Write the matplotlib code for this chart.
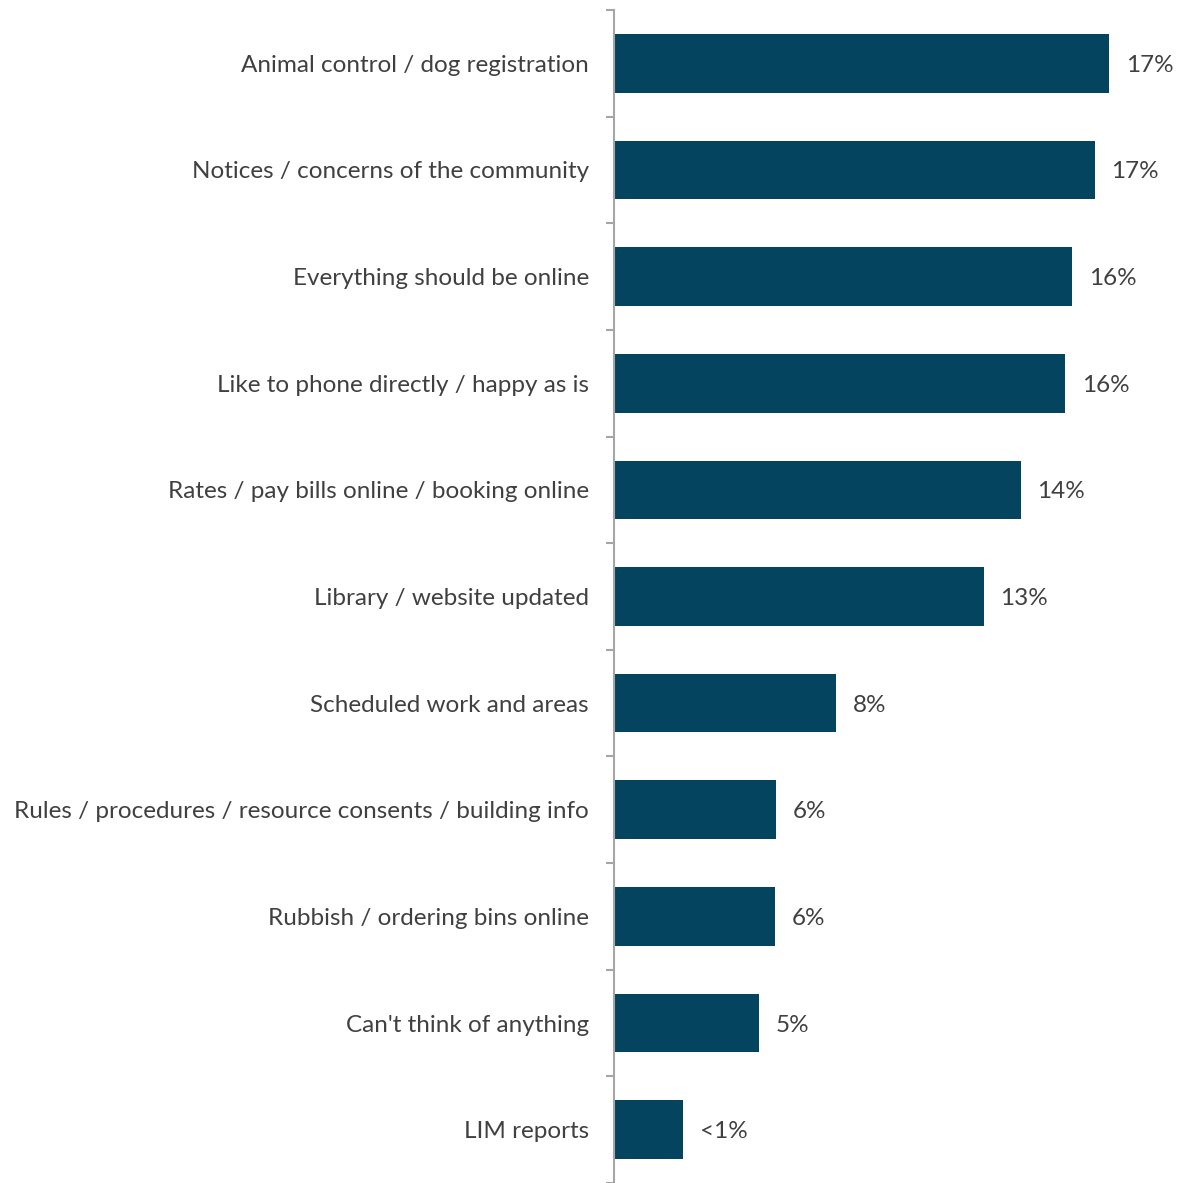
import matplotlib
matplotlib.use("Agg")
import matplotlib.pyplot as plt
import numpy as np

categories = [
    "Animal control / dog registration",
    "Notices / concerns of the community",
    "Everything should be online",
    "Like to phone directly / happy as is",
    "Rates / pay bills online / booking online",
    "Library / website updated",
    "Scheduled work and areas",
    "Rules / procedures / resource consents / building info",
    "Rubbish / ordering bins online",
    "Can't think of anything",
    "LIM reports",
]
values = [17.4, 16.9, 16.1, 15.85, 14.3, 13.0, 7.8, 5.7, 5.66, 5.1, 2.43]
value_labels = ["17%", "17%", "16%", "16%", "14%", "13%", "8%", "6%", "6%", "5%", "<1%"]

plt.rcParams['font.family'] = ['Lato', 'DejaVu Sans']
fig = plt.figure(figsize=(11.83, 11.83), dpi=100)
ax = fig.add_axes([614/1183, 0, 1 - 614/1183, 1 - 10/1183])

n = len(categories)
y = np.arange(n)
bar_color = "#05445E"
text_color = "#404040"
fs = 17.5
ax.barh(y, values, height=0.55, color=bar_color, zorder=2)
ax.set_ylim(n - 0.5, -0.5)
ax.set_xlim(0, 20)

for yi, v, lab in zip(y, values, value_labels):
    ax.annotate(lab, (v, yi), xytext=(12, 0), textcoords="offset points",
                ha="left", va="center_baseline", fontsize=fs, color=text_color)

ax.set_yticks(y)
ax.set_yticklabels(categories, fontsize=fs, color=text_color, va="center_baseline")
ax.tick_params(axis="y", which="major", length=0, pad=18)
ax.set_yticks(np.arange(-0.5, n, 1.0), minor=True)
ax.tick_params(axis="y", which="minor", length=5.5, width=1.5, color="#A6A6A6", direction="out")
ax.set_xticks([])
for s in ["top", "right", "bottom"]:
    ax.spines[s].set_visible(False)
ax.spines["left"].set_color("#A6A6A6")
ax.spines["left"].set_linewidth(1.5)
ax.set_facecolor("none")

fig.savefig("out.png", dpi=100)
